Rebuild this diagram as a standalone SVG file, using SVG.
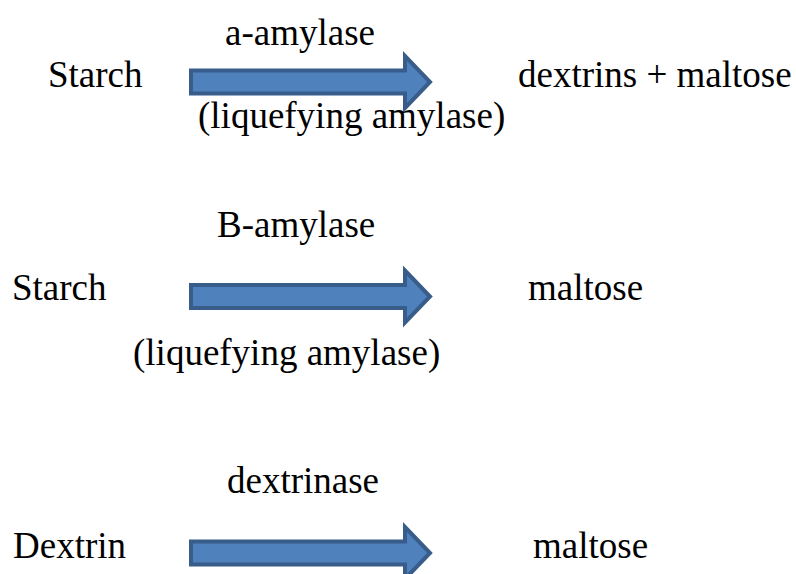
<svg xmlns="http://www.w3.org/2000/svg" xmlns:xlink="http://www.w3.org/1999/xlink" width="796" height="574" viewBox="0 0 796 574">
  <style>
    text { font-family: 'Liberation Serif', 'Times New Roman', serif; font-size: 37px; fill: #000; }
    .arrow { fill: #4F81BD; stroke: #385D8A; stroke-width: 4; stroke-linejoin: miter; }
  </style>
  <defs>
    <!-- block arrow, drawn about its own horizontal centre line -->
    <path id="blockArrow" class="arrow" d="M191,-11.5 H405 V-26 L430,0 L405,26 V11.5 H191 Z"/>
  </defs>
  <rect width="796" height="574" fill="#fff"/>

  <g id="connectors">
    <use id="arrow1" xlink:href="#blockArrow" transform="translate(0,82)"/>
    <use id="arrow2" xlink:href="#blockArrow" transform="translate(0,296.5)"/>
    <use id="arrow3" xlink:href="#blockArrow" transform="translate(0,553)"/>
  </g>

  <!-- reaction 1 -->
  <g id="starch1"><text x="48" y="87">Starch</text></g>
  <g id="enzyme1"><text x="225" y="45">a-amylase</text></g>
  <g id="note1"><text x="198" y="128">(liquefying amylase)</text></g>
  <g id="product1"><text x="518" y="87">dextrins + maltose</text></g>

  <!-- reaction 2 -->
  <g id="starch2"><text x="12" y="300">Starch</text></g>
  <g id="enzyme2"><text x="217" y="237">B-amylase</text></g>
  <g id="note2"><text x="133" y="365">(liquefying amylase)</text></g>
  <g id="product2"><text x="528" y="300">maltose</text></g>

  <!-- reaction 3 -->
  <g id="dextrin"><text x="13" y="558">Dextrin</text></g>
  <g id="enzyme3"><text x="227" y="493">dextrinase</text></g>
  <g id="product3"><text x="533" y="558">maltose</text></g>
</svg>
